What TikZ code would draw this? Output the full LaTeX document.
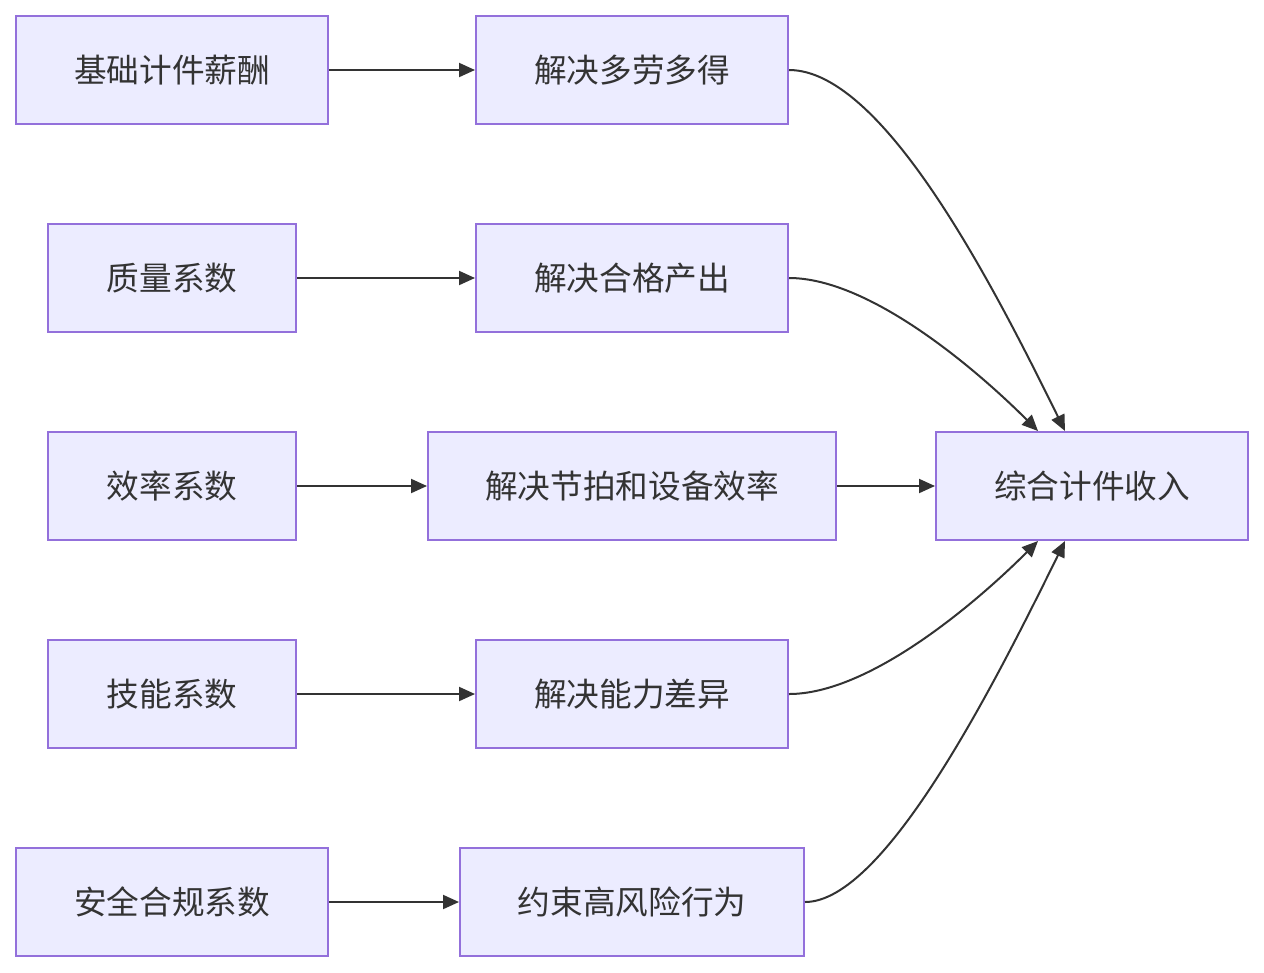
\documentclass[tikz,border=0pt]{standalone}
\usepackage{fontspec}
\setmainfont{Noto Sans CJK SC}
\usetikzlibrary{arrows.meta,calc}
\definecolor{boxfill}{HTML}{ECECFF}
\definecolor{boxline}{HTML}{9370DB}
\definecolor{ink}{HTML}{333333}
\begin{document}
\begin{tikzpicture}[x=0.75pt,y=-0.75pt,
  box/.style={draw=boxline,fill=boxfill,line width=1.5pt,minimum height=81pt,text=ink,font=\fontsize{24.5}{29}\selectfont,inner sep=0pt},
  flow/.style={draw=ink,line width=1.5pt,-{Triangle[length=12pt,width=10.5pt]}}]
\useasboundingbox (0,0) rectangle (1264,972);
% left column
\node[box,minimum width=234pt] (jichu) at (172,70) {基础计件薪酬};
\node[box,minimum width=186pt] (zhiliang) at (172,278) {质量系数};
\node[box,minimum width=186pt] (xiaolv) at (172,486) {效率系数};
\node[box,minimum width=186pt] (jineng) at (172,694) {技能系数};
\node[box,minimum width=234pt] (anquan) at (172,902) {安全合规系数};
% middle column
\node[box,minimum width=234pt] (duolao) at (632,70) {解决多劳多得};
\node[box,minimum width=234pt] (hege) at (632,278) {解决合格产出};
\node[box,minimum width=306pt] (jiepai) at (632,486) {解决节拍和设备效率};
\node[box,minimum width=234pt] (nengli) at (632,694) {解决能力差异};
\node[box,minimum width=258pt] (fengxian) at (632,902) {约束高风险行为};
% result
\node[box,minimum width=234pt] (shouru) at (1092,486) {综合计件收入};
\draw[flow] (jichu) -- (duolao);
\draw[flow] (zhiliang) -- (hege);
\draw[flow] (xiaolv) -- (jiepai);
\draw[flow] (jineng) -- (nengli);
\draw[flow] (anquan) -- (fengxian);
\draw[flow] (jiepai) -- (shouru);
\draw[flow] (duolao.east) .. controls +(95,0) and (995,289) .. ($(shouru.north)+(-27,0)$);
\draw[flow] (hege.east) .. controls +(80,0) and (975,368) .. ($(shouru.north)+(-54,0)$);
\draw[flow] (nengli.east) .. controls +(80,0) and (975,604) .. ($(shouru.south)+(-54,0)$);
\draw[flow] (fengxian.east) .. controls +(80,0) and (995,683) .. ($(shouru.south)+(-27,0)$);
\end{tikzpicture}
\end{document}
